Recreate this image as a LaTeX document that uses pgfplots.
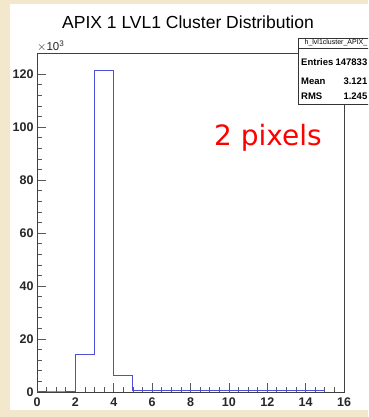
\documentclass[border=0pt]{standalone}
\usepackage{pgfplots}
\pgfplotsset{compat=1.18}
\usepackage{fontspec}
\setmainfont{Liberation Sans}
\newfontfamily\handfont{DejaVu Sans}
\definecolor{parch}{HTML}{F3E8CC}
\definecolor{histblue}{HTML}{4E4ED8}
\begin{document}
\begin{tikzpicture}[x=1pt,y=1pt]
\useasboundingbox (0,0) rectangle (368,417);
\clip (0,0) rectangle (368,417);
\fill[parch] (0,0) rectangle (368,417);
\fill[white] (10,7) rectangle (368,413);
\node[font=\fontsize{17.5}{18}\selectfont] at (188,395) {APIX 1 LVL1 Cluster Distribution};
\coordinate (O) at (37,25);
\begin{axis}[name=ax, at={(O)}, anchor=south west, scale only axis,
  width=307pt, height=339pt,
  xmin=0, xmax=16, ymin=0, ymax=128000, clip=false,
  xtick={0,2,...,16}, minor x tick num=3,
  ytick={0,20000,40000,60000,80000,100000,120000},
  yticklabels={0,20,40,60,80,100,120}, minor y tick num=4,
  scaled y ticks=false,
  tick align=inside, tick pos=left,
  major tick length=9pt, minor tick length=4.5pt,
  axis line style={black!75, line width=0.8pt},
  every tick/.style={black!65, line width=0.7pt},
  ticklabel style={font=\bfseries\fontsize{12.5}{13}\selectfont, text=black!85},
  xticklabel style={yshift=-2pt},
  /pgf/number format/assume math mode=true,
]
\addplot[const plot, histblue, line width=1pt] coordinates {
(0,0) (1,0) (2,14300) (3,121500) (4,6300) (5,400) (6,400) (7,400) (8,400)
(9,400) (10,400) (11,400) (12,400) (13,400) (14,400) (15,0)};
\end{axis}
\node[anchor=south west, inner sep=0pt, font=\fontsize{11.5}{12}\selectfont, text=black!85] at ([yshift=1pt]ax.north west) {$\times$10\textsuperscript{3}};
\node[anchor=base, text=red, font=\handfont\fontsize{28}{28}\selectfont] at (268,271) {2 pixels};
% stats box
\draw[fill=white, draw=black!80, line width=0.7pt] (298,379) rectangle (390,313);
\draw[line width=0.6pt, black!80] (298,369) -- (390,369);
\node[anchor=east, inner sep=0pt, font=\fontsize{7}{8}\selectfont] at (367.5,374) {h\_lvl1cluster\_APIX\_};
\node[anchor=west, inner sep=0pt, font=\bfseries\fontsize{9.5}{10}\selectfont] at (301,355) {Entries};
\node[anchor=west, inner sep=0pt, font=\bfseries\fontsize{9.5}{10}\selectfont] at (301,336) {Mean};
\node[anchor=west, inner sep=0pt, font=\bfseries\fontsize{9.5}{10}\selectfont] at (301,321) {RMS};
\node[anchor=east, inner sep=0pt, font=\bfseries\fontsize{9.5}{10}\selectfont] at (367.5,355) {147833};
\node[anchor=east, inner sep=0pt, font=\bfseries\fontsize{9.5}{10}\selectfont] at (367.5,336) {3.121};
\node[anchor=east, inner sep=0pt, font=\bfseries\fontsize{9.5}{10}\selectfont] at (367.5,321) {1.245};
\end{tikzpicture}
\end{document}
